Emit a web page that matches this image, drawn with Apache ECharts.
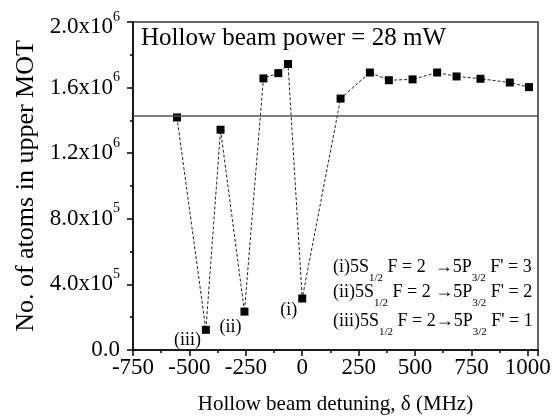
<!DOCTYPE html>
<html>
<head>
<meta charset="utf-8">
<script src="https://cdn.jsdelivr.net/npm/echarts@6/dist/echarts.min.js"></script>
<style>
  html, body { margin: 0; padding: 0; background: #ffffff; }
  #chart { width: 556px; height: 420px; }
</style>
</head>
<body>
<div id="chart"></div>
<script>
// 失谐量 (MHz)
const detuning = [-555, -427, -362, -256, -172, -106, -63, 0, 170, 300, 384, 489, 598, 684, 790, 920, 1005];
// 上MOT原子数
const atoms = [1.418e6, 1.23e5, 1.343e6, 2.34e5, 1.656e6, 1.688e6, 1.744e6, 3.14e5, 1.533e6, 1.692e6, 1.645e6, 1.650e6, 1.692e6, 1.668e6, 1.654e6, 1.631e6, 1.603e6];
// 共振标记
const markNames = { 1: '(iii)', 3: '(ii)', 7: '(i)' };
const refLevel = 1.43e6;
const xTicks = [-750, -500, -250, 0, 250, 500, 750, 1000];
const yTicks = ['0.0', '4.0x10{sup|5}', '8.0x10{sup|5}', '1.2x10{sup|6}', '1.6x10{sup|6}', '{m|2.0x10}{sup2|6}'];

const FONT = '"Liberation Serif", "Times New Roman", serif';

const chartInstance = echarts.init(document.getElementById('chart'));

const seriesData = detuning.map(function (d, i) {
  const item = { value: [d, atoms[i]] };
  if (markNames[i]) {
    item.label = {
      show: true,
      formatter: markNames[i],
      position: 'left',
      distance: 1,
      offset: [0, 10],
      fontFamily: FONT,
      fontSize: 18,
      color: '#000'
    };
  }
  return item;
});
// (ii) 标签再往下一点
seriesData[3].label.offset = [2, 16];
seriesData[7].label.offset = [0, 12];

const subStyle = { fontFamily: FONT, fontSize: 11, color: '#000', padding: [23, 0, 0, 0] };
const txtStyle = { fontFamily: FONT, fontSize: 18, color: '#000' };
function legendLine(top, str) {
  return {
    type: 'text',
    left: 333,
    top: top,
    style: {
      text: str,
      rich: { t: txtStyle, s: subStyle }
    }
  };
}

const option = {
  animation: false,
  backgroundColor: '#ffffff',
  grid: {
    left: 133,
    right: 18,
    top: 22,
    bottom: 67,
    show: true,
    borderColor: '#333',
    borderWidth: 1.5
  },
  xAxis: {
    type: 'value',
    min: -750,
    max: 1045,
    interval: 250,
    name: 'Hollow beam detuning, δ (MHz)',
    nameLocation: 'middle',
    nameGap: 44,
    nameTextStyle: { fontFamily: FONT, fontSize: 21, color: '#000' },
    axisLine: { onZero: false, lineStyle: { color: '#000', width: 1.5 } },
    axisTick: { length: 6, lineStyle: { color: '#000', width: 1.5 } },
    minorTick: { show: true, splitNumber: 2, length: 3, lineStyle: { color: '#000', width: 1.5 } },
    splitLine: { show: false },
    axisLabel: {
      fontFamily: FONT, fontSize: 23, color: '#000', margin: 6,
      formatter: function (v) { return xTicks.indexOf(v) >= 0 ? String(v) : ''; }
    }
  },
  yAxis: {
    type: 'value',
    min: 0,
    max: 2e6,
    interval: 4e5,
    name: 'No. of atoms in upper MOT',
    nameLocation: 'middle',
    nameGap: 91,
    nameTextStyle: { fontFamily: FONT, fontSize: 26, color: '#000' },
    axisLine: { show: true, onZero: false, lineStyle: { color: '#000', width: 1.5 } },
    axisTick: { length: 6, lineStyle: { color: '#000', width: 1.5 } },
    minorTick: { show: true, splitNumber: 2, length: 3, lineStyle: { color: '#000', width: 1.5 } },
    splitLine: { show: false },
    axisLabel: {
      fontFamily: FONT, fontSize: 23, color: '#000', margin: 13,
      formatter: function (v) {
        const idx = Math.round(v / 4e5);
        return yTicks[idx] !== undefined ? yTicks[idx] : '';
      },
      rich: {
        sup: { fontFamily: FONT, fontSize: 14, color: '#000', padding: [0, 0, 20, 0] },
        m: { fontFamily: FONT, fontSize: 23, color: '#000', padding: [10, 0, 0, 0] },
        sup2: { fontFamily: FONT, fontSize: 14, color: '#000', padding: [0, 0, 10, 0] }
      }
    }
  },
  series: [
    {
      type: 'line',
      data: seriesData,
      symbol: 'rect',
      symbolSize: 8,
      itemStyle: { color: '#000' },
      lineStyle: { color: '#222', width: 1, type: [3, 2] },
      markLine: {
        silent: true,
        symbol: 'none',
        label: { show: false },
        lineStyle: { color: '#555', width: 1.5, type: 'solid' },
        data: [{ yAxis: refLevel }]
      }
    }
  ],
  graphic: [
    {
      type: 'text',
      left: 141,
      top: 26,
      style: { text: 'Hollow beam power = 28 mW', fontFamily: FONT, fontSize: 25, fill: '#000' }
    },
    legendLine(258, "{t|(i)5S}{s|1/2}{t| F = 2  →5P}{s|3/2}{t| F' = 3}"),
    legendLine(283, "{t|(ii)5S}{s|1/2}{t| F = 2 →5P}{s|3/2}{t| F' = 2}"),
    legendLine(312, "{t|(iii)5S}{s|1/2}{t| F = 2→5P}{s|3/2}{t| F' = 1}")
  ]
};

chartInstance.setOption(option);
</script>
</body>
</html>
